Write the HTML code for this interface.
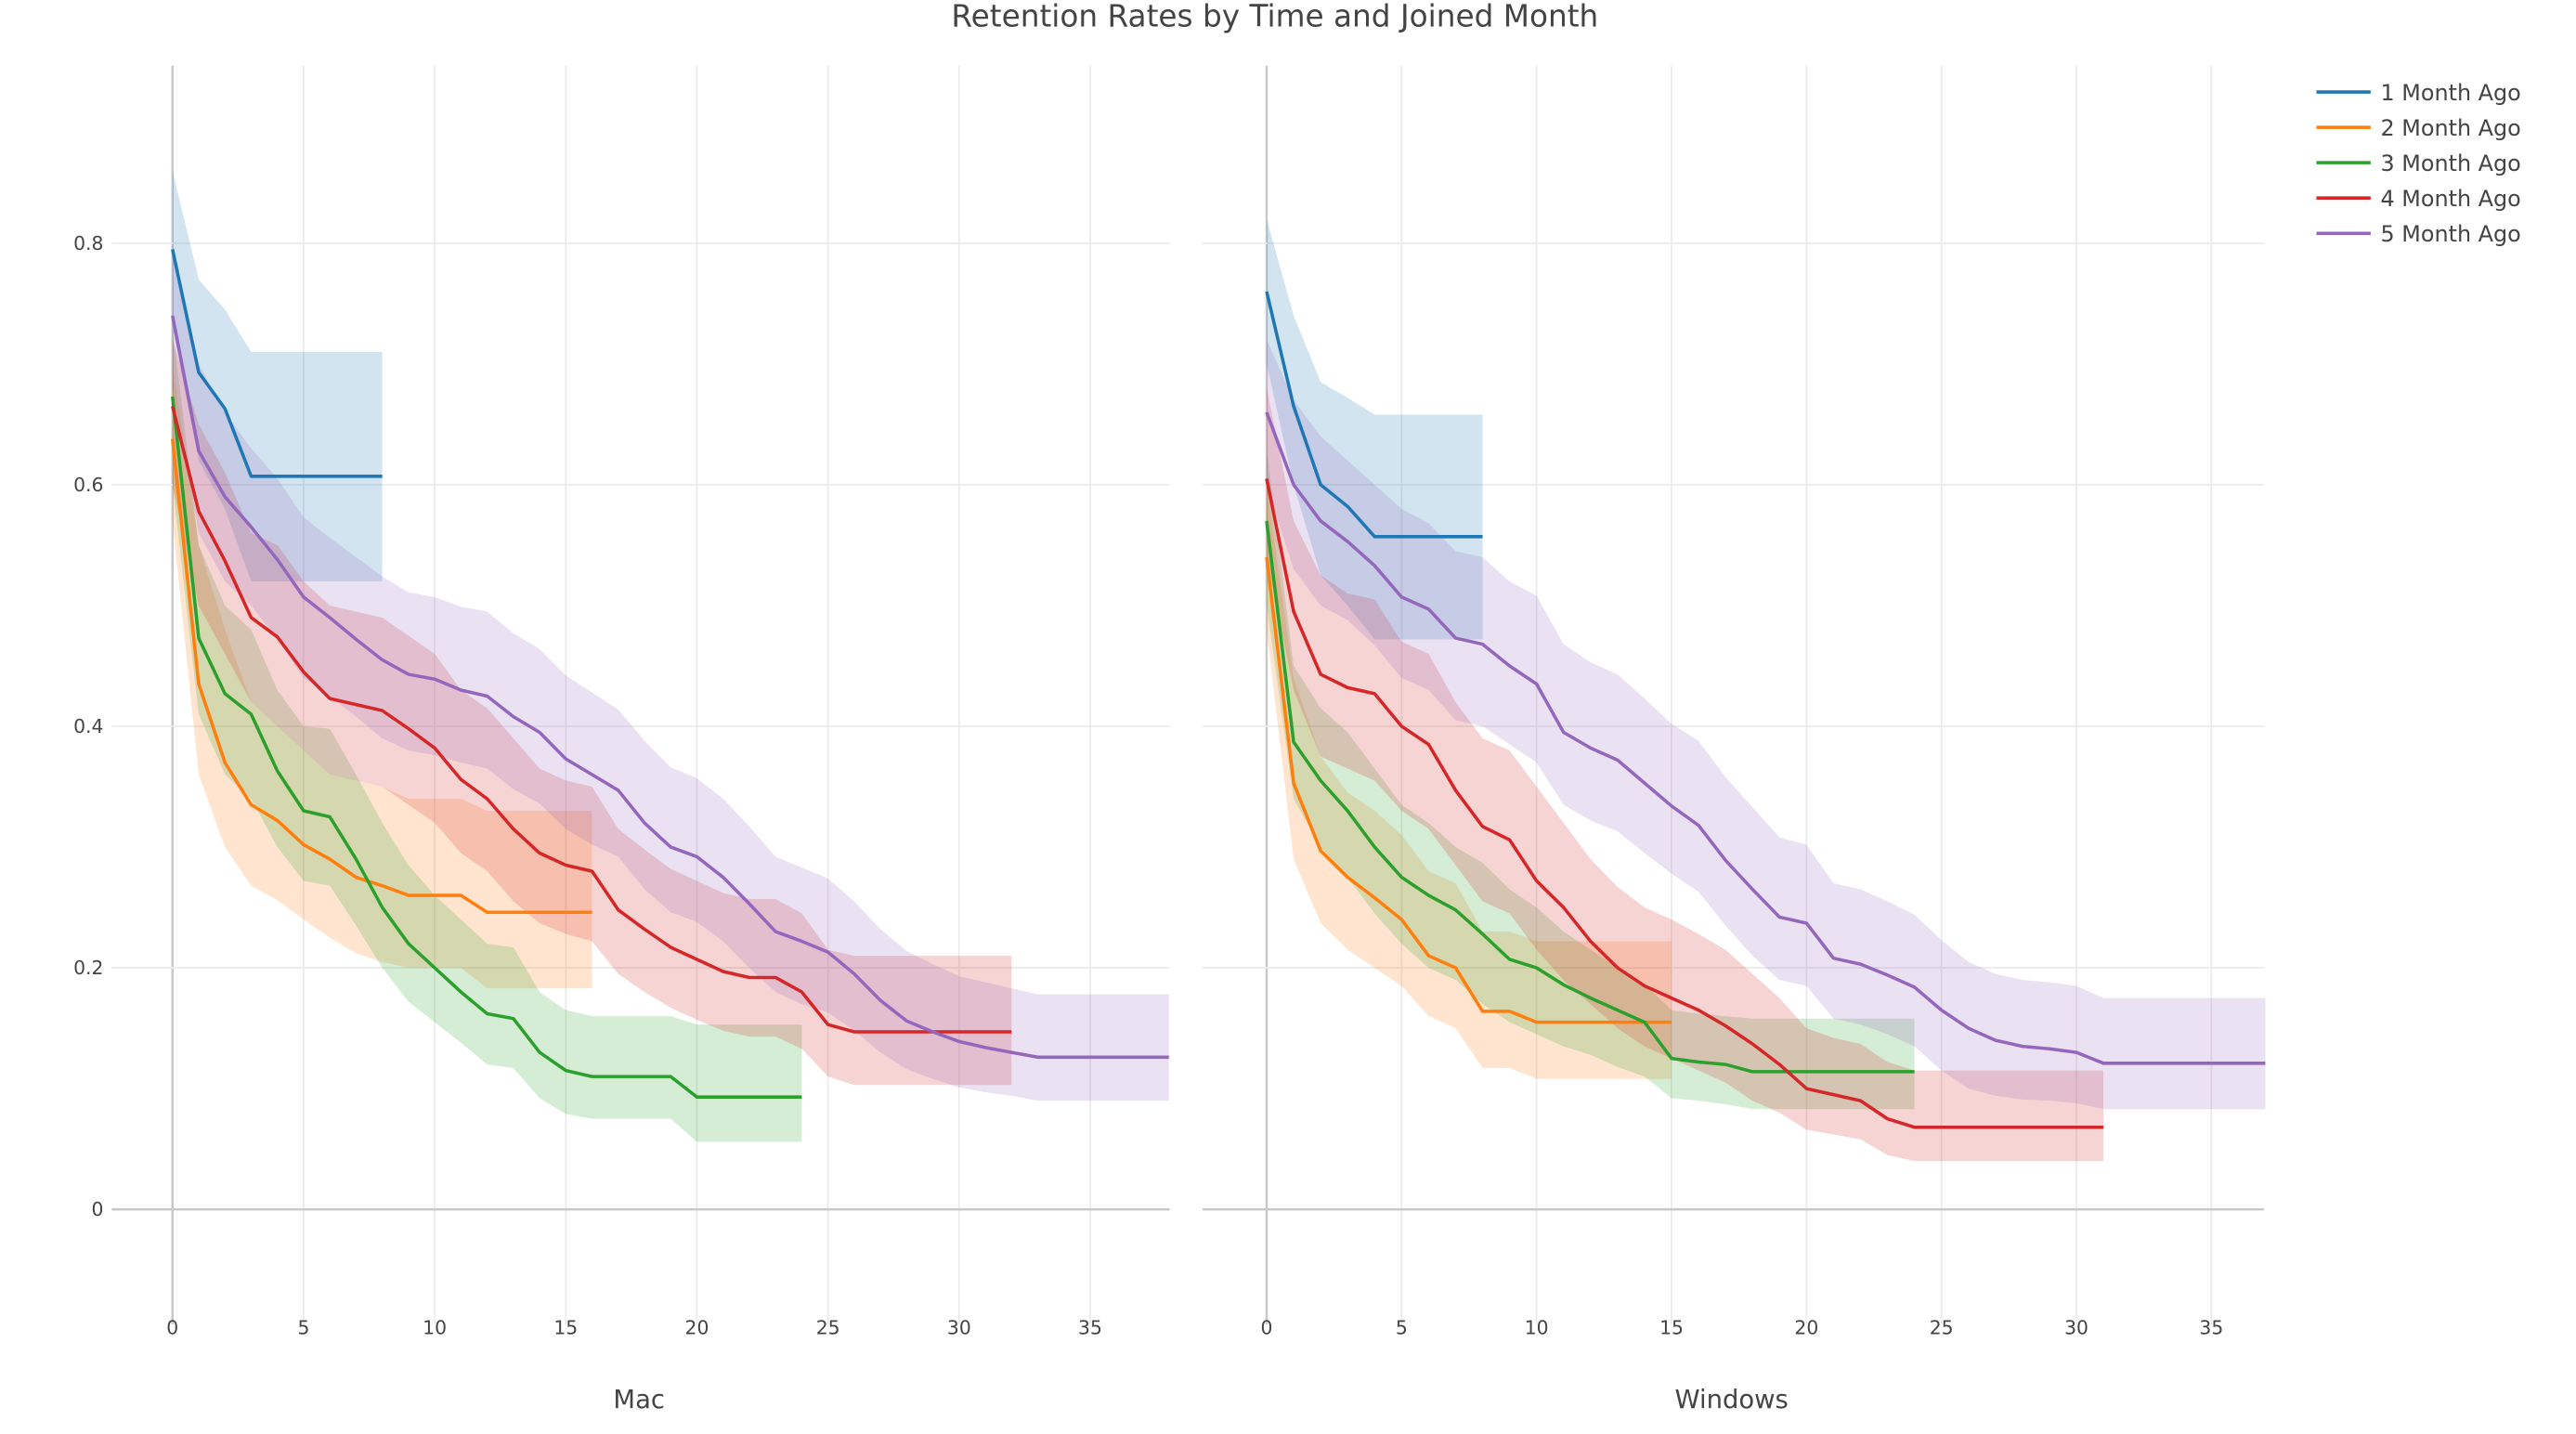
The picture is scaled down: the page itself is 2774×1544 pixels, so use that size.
<!DOCTYPE html>
<html><head><meta charset="utf-8"><style>
html,body{margin:0;padding:0;background:#fff;}
svg{display:block;font-family:"DejaVu Sans","Liberation Sans",sans-serif;}
</style></head><body>
<svg id="chart" width="2774" height="1544" viewBox="0 0 1568 872.7" preserveAspectRatio="none" xmlns="http://www.w3.org/2000/svg">
<text x="776" y="16" text-anchor="middle" font-size="18.5" fill="#444">Retention Rates by Time and Joined Month</text>
<g id="panels"></g>
<g id="legend"></g>
</svg>
<script>
const seriesNames = ["1 Month Ago","2 Month Ago","3 Month Ago","4 Month Ago","5 Month Ago"];
const colors = ["#1f77b4","#ff7f0e","#2ca02c","#d62728","#9467bd"];
const yTicks = [0,0.2,0.4,0.6,0.8];
const yTickLabels = ["0","0.2","0.4","0.6","0.8"];
const xTicks = [0,5,10,15,20,25,30,35];

const macMean1 = [0.795,0.693,0.663,0.607,0.607,0.607,0.607,0.607,0.607];
const macUp1 = [0.86,0.77,0.745,0.71,0.71,0.71,0.71,0.71,0.71];
const macLo1 = [0.73,0.62,0.58,0.52,0.52,0.52,0.52,0.52,0.52];
const macMean2 = [0.638,0.435,0.37,0.335,0.322,0.302,0.29,0.275,0.268,0.26,0.26,0.26,0.246,0.246,0.246,0.246,0.246];
const macUp2 = [0.70,0.55,0.48,0.42,0.40,0.38,0.36,0.355,0.35,0.34,0.34,0.34,0.33,0.33,0.33,0.33,0.33];
const macLo2 = [0.57,0.36,0.30,0.268,0.256,0.24,0.225,0.212,0.205,0.2,0.2,0.2,0.183,0.183,0.183,0.183,0.183];
const macMean3 = [0.673,0.473,0.427,0.41,0.363,0.33,0.325,0.29,0.25,0.22,0.2,0.18,0.162,0.158,0.13,0.115,0.11,0.11,0.11,0.11,0.093,0.093,0.093,0.093,0.093];
const macUp3 = [0.73,0.55,0.5,0.48,0.43,0.4,0.398,0.36,0.32,0.285,0.26,0.24,0.22,0.217,0.18,0.165,0.16,0.16,0.16,0.16,0.153,0.153,0.153,0.153,0.153];
const macLo3 = [0.6,0.41,0.36,0.34,0.3,0.272,0.268,0.235,0.2,0.172,0.155,0.138,0.12,0.117,0.092,0.079,0.075,0.075,0.075,0.075,0.056,0.056,0.056,0.056,0.056];
const macMean4 = [0.665,0.578,0.537,0.49,0.474,0.445,0.423,0.418,0.413,0.398,0.382,0.356,0.34,0.315,0.295,0.285,0.28,0.248,0.232,0.217,0.207,0.197,0.192,0.192,0.18,0.153,0.147,0.147,0.147,0.147,0.147,0.147,0.147];
const macUp4 = [0.72,0.65,0.61,0.56,0.55,0.52,0.5,0.495,0.49,0.475,0.46,0.43,0.415,0.39,0.365,0.355,0.35,0.315,0.298,0.282,0.272,0.262,0.257,0.257,0.245,0.215,0.21,0.21,0.21,0.21,0.21,0.21,0.21];
const macLo4 = [0.6,0.5,0.46,0.42,0.4,0.38,0.36,0.355,0.35,0.335,0.32,0.295,0.28,0.255,0.237,0.228,0.222,0.195,0.18,0.167,0.157,0.148,0.143,0.143,0.133,0.11,0.103,0.103,0.103,0.103,0.103,0.103,0.103];
const macMean5 = [0.74,0.628,0.59,0.565,0.538,0.507,0.49,0.472,0.455,0.443,0.439,0.43,0.425,0.408,0.395,0.373,0.36,0.347,0.32,0.3,0.292,0.275,0.253,0.23,0.222,0.213,0.195,0.173,0.156,0.147,0.139,0.134,0.13,0.126,0.126,0.126,0.126,0.126,0.126];
const macUp5 = [0.8,0.7,0.66,0.63,0.605,0.573,0.556,0.54,0.524,0.511,0.507,0.499,0.495,0.477,0.464,0.442,0.428,0.414,0.388,0.366,0.357,0.34,0.317,0.292,0.283,0.274,0.255,0.232,0.214,0.203,0.193,0.188,0.183,0.178,0.178,0.178,0.178,0.178,0.178];
const macLo5 = [0.68,0.56,0.52,0.5,0.472,0.44,0.425,0.408,0.39,0.38,0.376,0.37,0.365,0.348,0.336,0.315,0.302,0.292,0.265,0.246,0.238,0.222,0.2,0.18,0.17,0.163,0.148,0.13,0.116,0.108,0.101,0.097,0.094,0.09,0.09,0.09,0.09,0.09,0.09];

const winMean1 = [0.76,0.665,0.6,0.582,0.557,0.557,0.557,0.557,0.557];
const winUp1 = [0.82,0.74,0.685,0.672,0.658,0.658,0.658,0.658,0.658];
const winLo1 = [0.7,0.6,0.525,0.5,0.472,0.472,0.472,0.472,0.472];
const winMean2 = [0.54,0.353,0.297,0.275,0.258,0.24,0.21,0.2,0.164,0.164,0.155,0.155,0.155,0.155,0.155,0.155];
const winUp2 = [0.6,0.44,0.375,0.345,0.33,0.31,0.28,0.27,0.23,0.23,0.222,0.222,0.222,0.222,0.222,0.222];
const winLo2 = [0.48,0.29,0.237,0.215,0.2,0.185,0.16,0.15,0.117,0.117,0.108,0.108,0.108,0.108,0.108,0.108];
const winMean3 = [0.57,0.387,0.355,0.33,0.3,0.275,0.26,0.248,0.228,0.207,0.2,0.186,0.175,0.165,0.155,0.125,0.122,0.12,0.114,0.114,0.114,0.114,0.114,0.114,0.114];
const winUp3 = [0.63,0.45,0.415,0.395,0.365,0.335,0.32,0.3,0.287,0.265,0.25,0.23,0.215,0.2,0.186,0.165,0.162,0.16,0.158,0.158,0.158,0.158,0.158,0.158,0.158];
const winLo3 = [0.5,0.34,0.3,0.275,0.245,0.22,0.2,0.19,0.17,0.155,0.145,0.135,0.128,0.118,0.11,0.092,0.09,0.087,0.083,0.083,0.083,0.083,0.083,0.083,0.083];
const winMean4 = [0.605,0.495,0.443,0.432,0.427,0.4,0.385,0.347,0.317,0.306,0.272,0.25,0.222,0.2,0.185,0.175,0.165,0.152,0.137,0.12,0.1,0.095,0.09,0.075,0.068,0.068,0.068,0.068,0.068,0.068,0.068,0.068];
const winUp4 = [0.68,0.57,0.525,0.51,0.505,0.47,0.46,0.42,0.39,0.38,0.35,0.32,0.29,0.267,0.25,0.24,0.228,0.215,0.195,0.175,0.15,0.142,0.137,0.122,0.115,0.115,0.115,0.115,0.115,0.115,0.115,0.115];
const winLo4 = [0.54,0.43,0.375,0.365,0.355,0.33,0.315,0.285,0.255,0.245,0.215,0.19,0.17,0.15,0.135,0.125,0.115,0.105,0.09,0.08,0.066,0.062,0.058,0.045,0.04,0.04,0.04,0.04,0.04,0.04,0.04,0.04];
const winMean5 = [0.66,0.6,0.57,0.553,0.533,0.507,0.497,0.473,0.468,0.45,0.435,0.395,0.382,0.372,0.353,0.334,0.318,0.289,0.265,0.242,0.237,0.208,0.203,0.194,0.184,0.165,0.15,0.14,0.135,0.133,0.13,0.121,0.121,0.121,0.121,0.121,0.121,0.121];
const winUp5 = [0.72,0.67,0.64,0.62,0.6,0.58,0.568,0.545,0.54,0.52,0.508,0.468,0.453,0.443,0.423,0.402,0.388,0.358,0.333,0.308,0.302,0.27,0.265,0.255,0.244,0.223,0.205,0.195,0.19,0.188,0.185,0.175,0.175,0.175,0.175,0.175,0.175,0.175];
const winLo5 = [0.6,0.53,0.5,0.488,0.467,0.44,0.43,0.405,0.4,0.385,0.37,0.335,0.322,0.313,0.295,0.278,0.263,0.235,0.21,0.19,0.185,0.158,0.153,0.145,0.135,0.115,0.1,0.094,0.091,0.09,0.088,0.083,0.083,0.083,0.083,0.083,0.083,0.083];

const NS = "http://www.w3.org/2000/svg";
function mk(tag, attrs, parent){const e=document.createElementNS(NS,tag);for(const k in attrs)e.setAttribute(k,attrs[k]);parent.appendChild(e);return e;}
const Y0 = 736, YTOP = 40, YBOT = 806, PXU = 735;
function yScale(v){return Y0 - v*PXU;}

const panels = [
 {name:"mac", title:"Mac", left:68, right:712, x0:105, xu:15.96,
  means:[macMean1,macMean2,macMean3,macMean4,macMean5], ups:[macUp1,macUp2,macUp3,macUp4,macUp5], los:[macLo1,macLo2,macLo3,macLo4,macLo5], yLabels:true},
 {name:"windows", title:"Windows", left:732, right:1378, x0:771, xu:16.43,
  means:[winMean1,winMean2,winMean3,winMean4,winMean5], ups:[winUp1,winUp2,winUp3,winUp4,winUp5], los:[winLo1,winLo2,winLo3,winLo4,winLo5], yLabels:false}
];
const root = document.getElementById("panels");
panels.forEach(p=>{
  const xs = v => p.x0 + v*p.xu;
  const g = mk("g",{},root);
  
  
  xTicks.forEach(t=>{
    const l = mk("line",{x1:xs(t),x2:xs(t),y1:YTOP,y2:YBOT,stroke:t===0?"#c8c8c8":"#ebebeb","stroke-width":t===0?1.4:1},g);
    
    
    const tx = mk("text",{x:xs(t),y:812,"text-anchor":"middle","font-size":11.5,fill:"#444"},g);
    
    
    tx.textContent = t;
  });
  yTicks.forEach((t,i)=>{
    const l = mk("line",{x1:p.left,x2:p.right,y1:yScale(t),y2:yScale(t),stroke:t===0?"#c8c8c8":"#ebebeb","stroke-width":t===0?1.4:1},g);
    
    
    if(p.yLabels){
      const tx = mk("text",{x:63,y:yScale(t)+4,"text-anchor":"end","font-size":11.5,fill:"#444"},g);
      
      
      tx.textContent = yTickLabels[i];
    }
  });
  const at = mk("text",{x:(p.left+p.right)/2-1,y:857,"text-anchor":"middle","font-size":15.5,fill:"#444"},g);
  
  
  at.textContent = p.title;
  p.means.forEach((m,si)=>{
    const up = p.ups[si], lo = p.los[si];
    let d = "";
    up.forEach((v,i)=>{d += (i?"L":"M")+xs(i).toFixed(2)+","+yScale(v).toFixed(2);});
    for(let i=lo.length-1;i>=0;i--){d += "L"+xs(i).toFixed(2)+","+yScale(lo[i]).toFixed(2);}
    const band = mk("path",{d:d+"Z",fill:colors[si],"fill-opacity":0.2,stroke:"none"},g);
    
    
  });
  p.means.forEach((m,si)=>{
    const pts = m.map((v,i)=>xs(i).toFixed(2)+","+yScale(v).toFixed(2)).join(" ");
    const pl = mk("polyline",{points:pts,fill:"none",stroke:colors[si],"stroke-width":2,"stroke-linejoin":"round"},g);
    
    
  });
});
const lg = document.getElementById("legend");
seriesNames.forEach((n,i)=>{
  const y = 56 + i*21.5;
  const e = mk("g",{},lg);
  
  
  mk("line",{x1:1410,x2:1443,y1:y,y2:y,stroke:colors[i],"stroke-width":2},e);
  const t = mk("text",{x:1449,y:y+5,"font-size":13.5,fill:"#444"},e);
  t.textContent = n;
});
</script>
</body></html>
